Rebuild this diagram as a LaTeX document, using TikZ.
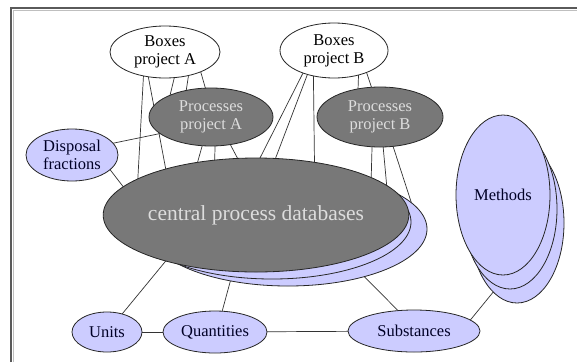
\documentclass[tikz,border=0pt]{standalone}
\usepackage{fontspec}
\setmainfont{Liberation Serif}
\usetikzlibrary{shapes.geometric}
\definecolor{lav}{HTML}{CCCCFF}
\definecolor{dgray}{HTML}{787878}
\definecolor{ltxt}{HTML}{DDDDDD}
\definecolor{framec}{HTML}{5A5A5A}
\pgfdeclarelayer{bg}
\pgfdeclarelayer{lines}
\pgfsetlayers{bg,lines,main}
\begin{document}
\begin{tikzpicture}[x=1pt,y=-1pt,
  ell/.style={ellipse, draw=black!85, line width=0.8pt, inner sep=0pt, outer sep=0pt,
              align=center, font=\fontsize{16.5}{18}\selectfont},
  wnode/.style={ell, fill=white, text=black},
  dnode/.style={ell, fill=dgray, text=ltxt},
  bnode/.style={ell, fill=lav, text=black!85!blue},
  conn/.style={draw=black!80, line width=0.7pt}
]
\begin{pgfonlayer}{bg}
  \fill[white] (0,0) rectangle (577,362);
\end{pgfonlayer}
\useasboundingbox (0,0) rectangle (577,362);
% frame
\draw[framec, line width=2pt] (11,362) -- (11,8) -- (577,8);
\draw[black!25, line width=0.8pt] (13.2,362) -- (13.2,10.2) -- (577,10.2);

% nodes
\node[wnode, minimum width=110pt, minimum height=52pt] (boxA) at (165,52) {Boxes\\project A};
\node[wnode, minimum width=108pt, minimum height=55pt] (boxB) at (334,50.5) {Boxes\\project B};
\node[dnode, minimum width=124pt, minimum height=58pt] (procA) at (211,117) {Processes\\project A};
\node[dnode, minimum width=126pt, minimum height=60pt] (procB) at (380,117) {Processes\\project B};
\node[bnode, minimum width=92pt, minimum height=52pt] (disp) at (72,155) {Disposal\\fractions};

\node[bnode, minimum width=278pt, minimum height=114pt] (csh2) at (288,229) {};
\node[bnode, minimum width=278pt, minimum height=114pt] (csh1) at (272,222) {};
\node[dnode, minimum width=278pt, minimum height=114pt, font=\fontsize{21.5}{24}\selectfont] (central) at (256,215) {central process databases};

\node[bnode, minimum width=94pt, minimum height=160pt] (meth3) at (517,223) {};
\node[bnode, minimum width=94pt, minimum height=160pt] (meth2) at (510,209) {};
\node[bnode, minimum width=94pt, minimum height=160pt] (meth) at (503,195) {Methods};

\node[bnode, minimum width=70pt, minimum height=40pt] (units) at (107,332) {Units};
\node[bnode, minimum width=104pt, minimum height=42pt] (quant) at (215,332) {Quantities};
\node[bnode, minimum width=132pt, minimum height=42pt] (subst) at (414,331) {Substances};

% connectors
\begin{pgfonlayer}{lines}
  \draw[conn] (boxA.-132.5) -- (central.163.7);
  \draw[conn] (boxA.-124.2) -- (central.153.7);
  \draw[conn] (boxA.-70.7) -- (procA.152);
  \draw[conn] (boxA.-45.7) -- (procA.133.3);
  \draw[conn] (boxA.-29.7) -- (procA.101.7);
  \draw[conn] (disp.16.1) -- (procA.-162.9);
  \draw[conn] (disp.-21.1) -- (central.168.2);
  \draw[conn] (procA.-107.4) -- (central.138.8);
  \draw[conn] (procA.-82.1) -- (central.127);
  \draw[conn] (procA.-55.5) -- (central.108.6);
  \draw[conn] (boxB.-144.9) -- (central.86);
  \draw[conn] (boxB.-138.6) -- (central.71.4);
  \draw[conn] (boxB.-129.7) -- (central.42.4);
  \draw[conn] (boxB.-45.7) -- (procB.128);
  \draw[conn] (boxB.-34.3) -- (procB.106.9);
  \draw[conn] (procB.-105) -- (central.18);
  \draw[conn] (procB.-84.3) -- (csh2.22.4);
  \draw[conn] (procB.-66.1) -- (csh2.12.6);
  \draw[conn] (units.50.4) -- (central.-153.7);
  \draw[conn] (quant.71.4) -- (csh2.-138.8);
  \draw[conn] (subst.128.1) -- (csh2.-32.6);
  \draw[conn] (subst.11.2) -- (meth3.-109.2);
  \draw[conn] (units) -- (quant);
  \draw[conn] (quant) -- (subst);
\end{pgfonlayer}
\end{tikzpicture}
\end{document}
